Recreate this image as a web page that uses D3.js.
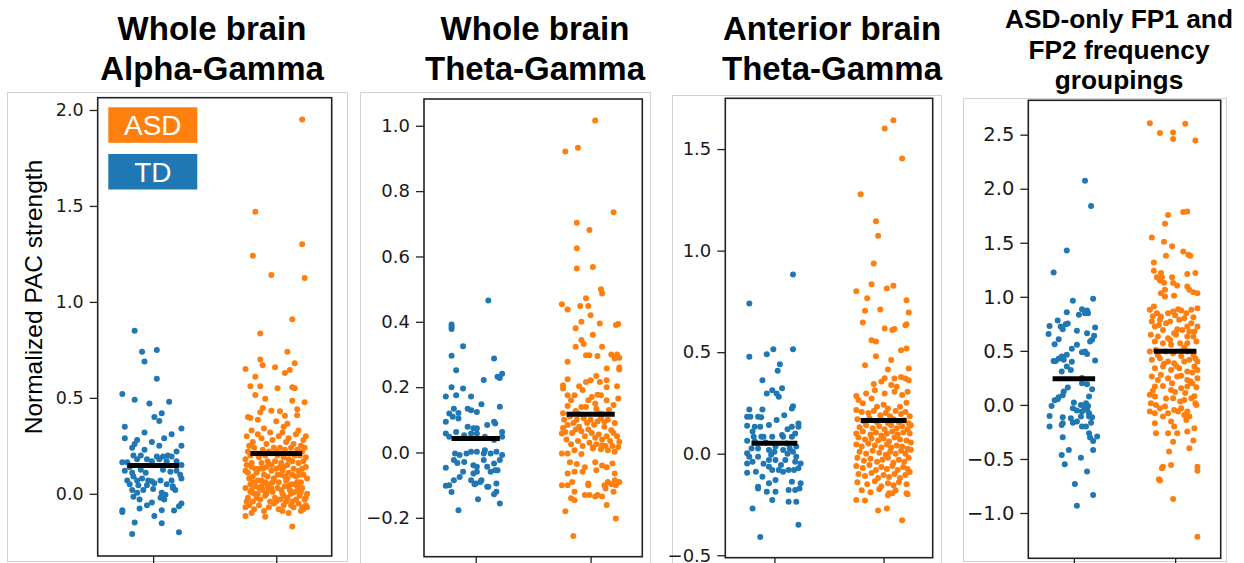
<!DOCTYPE html>
<html><head><meta charset="utf-8">
<script src="https://cdn.jsdelivr.net/npm/d3@7"></script>
<style>body{margin:0;background:#fff}svg{display:block}</style>
</head><body><svg id="chart" width="1244" height="563"></svg>
<script>
// Groups, colours and titles
const groups = ["TD", "ASD"];
const groupColors = ["#1f77b4", "#ff7f0e"];
const legendLabels = ["ASD", "TD"];
const panelTitles = [
  ["Whole brain", "Alpha-Gamma"],
  ["Whole brain", "Theta-Gamma"],
  ["Anterior brain", "Theta-Gamma"],
  ["ASD-only FP1 and", "FP2 frequency", "groupings"]
];
const yLabel = "Normalized PAC strength";

// Y tick values per panel
const yTicks1 = [0, 0.5, 1.0, 1.5, 2.0];
const yTicks2 = [-0.2, 0, 0.2, 0.4, 0.6, 0.8, 1.0];
const yTicks3 = [-0.5, 0, 0.5, 1.0, 1.5];
const yTicks4 = [-1.0, -0.5, 0, 0.5, 1.0, 1.5, 2.0, 2.5];

// Group means per panel [TD, ASD]
const means1 = [0.148, 0.21];
const means2 = [0.043, 0.117];
const means3 = [0.051, 0.164];
const means4 = [0.243, 0.497];

// Subject points: [horizontal jitter (in category units), PAC value]
const td1 = [[-0.15,0.85],[-0.09,0.74],[0.03,0.75],[-0.07,0.69],[0.03,0.6],[-0.25,0.52],[-0.15,0.49],[0.13,0.48],[-0.03,0.47],[0.07,0.42],[0.01,0.4],[0.05,0.38],[-0.23,0.35],[0.23,0.34],[-0.07,0.32],[0.15,0.31],[-0.23,0.29],[0.09,0.29],
[-0.13,0.28],[-0.15,0.26],[-0.01,0.27],[0.05,0.25],[0.23,0.25],[-0.17,0.24],[-0.07,0.23],[0.19,0.22],[0.12,0.2],[0.03,0.195],[-0.1,0.2],[-0.16,0.2],[0.08,0.195],[0.15,0.195],
[-0.25,0.165],[-0.21,0.165],[-0.23,0.12],[-0.19,0.14],[-0.13,0.18],[-0.05,0.18],[-0.01,0.17],[0.05,0.18],[0.11,0.17],[0.19,0.17],[0.23,0.15],[-0.17,0.11],[-0.1,0.125],[-0.06,0.11],[0.08,0.125],[0.14,0.115],[0.19,0.12],[-0.16,0.09],[-0.21,0.07],[0.22,0.1],[0.23,0.08],
[-0.13,0.07],[-0.09,0.08],[-0.04,0.07],[0.01,0.055],[0.06,0.07],[0.15,0.07],[-0.19,0.05],[-0.12,0.045],[-0.05,0.045],[-0.01,0.065],[0.11,0.05],[0.16,0.04],[-0.17,0.02],[-0.13,0.005],[-0.08,0.02],[0.0,0.025],[0.07,0.005],[0.1,-0.005],[0.16,0.03],[0.18,0.02],[-0.16,-0.015],[-0.11,-0.03],[0.06,-0.02],[0.09,-0.03],
[0.23,-0.05],[0.21,-0.065],[-0.01,-0.045],[-0.05,-0.06],[-0.11,-0.077],[0.07,-0.085],[0.17,-0.087],[-0.25,-0.085],[-0.25,-0.095],[0.01,-0.115],[-0.15,-0.15],[0.07,-0.153],[-0.17,-0.21],[0.21,-0.2]];

const asd1 = [[0.21,1.95],[-0.17,1.47],[0.21,1.3],[-0.19,1.24],[-0.04,1.14],[0.23,1.125],
[0.13,0.91],[-0.13,0.835],[0.09,0.74],[-0.13,0.7],[-0.11,0.67],[0.15,0.68],[-0.01,0.66],[-0.25,0.65],[0.11,0.645],[0.07,0.63],[-0.17,0.61],[-0.21,0.56],[-0.13,0.56],[0.13,0.555],[0.15,0.55],[0.01,0.55],[-0.17,0.515],[-0.09,0.495],[0.13,0.485],[0.23,0.477],[-0.11,0.447],[-0.04,0.433],[0.03,0.43],[-0.13,0.425],[0.17,0.44],[-0.23,0.4],[-0.21,0.395],[0.07,0.407],[0.17,0.41],[-0.15,0.386],[0.0,0.378],[0.09,0.365],[0.06,0.35],
[-0.2,0.33],[-0.1,0.34],[0.05,0.32],[0.18,0.33],[0.24,0.3],[-0.24,0.3],[-0.15,0.31],[0.1,0.29],[-0.03,0.28],[0.22,0.28],[-0.19,0.27],[0.02,0.3],[0.14,0.26],[-0.08,0.26],[0.2,0.25],[-0.22,0.25],[0.08,0.27],[-0.12,0.29],[0.16,0.31],[-0.05,0.32],
[-0.25,0.18],[-0.23,0.22],[-0.18,0.24],[-0.14,0.19],[-0.11,0.23],[-0.07,0.17],[-0.02,0.24],[0.01,0.2],[0.04,0.16],[0.07,0.23],[0.1,0.18],[0.12,0.24],[0.15,0.2],[0.18,0.16],[0.21,0.22],[0.24,0.19],[-0.2,0.16],[-0.16,0.21],[-0.09,0.2],[-0.04,0.15],[0.0,0.22],[0.06,0.19],[0.09,0.15],[0.13,0.17],[0.17,0.23],[0.22,0.17],[-0.24,0.15],[-0.12,0.16],[0.03,0.24],[0.19,0.2],[-0.06,0.22],[0.11,0.21],[-0.21,0.2],[0.23,0.24],[-0.01,0.17],
[-0.25,0.12],[-0.22,0.08],[-0.2,0.14],[-0.18,0.06],[-0.16,0.11],[-0.14,0.13],[-0.12,0.07],[-0.1,0.1],[-0.08,0.14],[-0.06,0.05],[-0.04,0.12],[-0.02,0.08],[0.0,0.13],[0.02,0.06],[0.04,0.1],[0.06,0.14],[0.08,0.07],[0.1,0.11],[0.12,0.05],[0.14,0.13],[0.16,0.09],[0.18,0.12],[0.2,0.06],[0.22,0.1],[0.24,0.14],[-0.23,0.11],[-0.19,0.09],[-0.15,0.07],[-0.11,0.13],[-0.07,0.09],[-0.03,0.06],[0.01,0.1],[0.05,0.12],[0.09,0.08],[0.13,0.1],[0.17,0.06],[0.21,0.13],[0.25,0.08],[-0.21,0.05],[-0.09,0.06],[0.03,0.14],[0.15,0.05],[-0.17,0.13],[0.07,0.09],[0.19,0.1],
[-0.25,0.03],[-0.23,-0.02],[-0.21,0.01],[-0.19,-0.04],[-0.17,0.04],[-0.15,0.0],[-0.13,-0.03],[-0.11,0.02],[-0.09,-0.01],[-0.07,0.04],[-0.05,-0.04],[-0.03,0.01],[-0.01,-0.02],[0.01,0.03],[0.03,-0.03],[0.05,0.0],[0.07,0.04],[0.09,-0.02],[0.11,0.02],[0.13,-0.04],[0.15,0.01],[0.17,0.04],[0.19,-0.01],[0.21,0.03],[0.23,-0.03],[0.25,0.0],[-0.24,-0.04],[-0.2,0.02],[-0.16,-0.02],[-0.12,0.04],[-0.08,0.0],[-0.04,0.03],[0.0,-0.04],[0.04,0.02],[0.08,-0.04],[0.12,0.0],[0.16,-0.03],[0.2,0.01],[0.24,-0.02],[-0.18,0.0],[-0.06,0.02],[0.06,-0.01],[0.18,0.02],[-0.14,0.03],[0.1,0.04],
[-0.25,-0.07],[-0.22,-0.06],[-0.18,-0.08],[-0.14,-0.06],[-0.1,-0.09],[-0.06,-0.07],[-0.02,-0.05],[0.02,-0.08],[0.06,-0.06],[0.1,-0.1],[0.14,-0.07],[0.18,-0.05],[0.22,-0.08],[0.25,-0.07],[0.24,-0.06],[-0.2,-0.1],[0.05,-0.09],[0.12,-0.06],[0.2,-0.09],[0.21,-0.07],
[-0.25,-0.115],[-0.09,-0.12],[0.13,-0.17]];

const td2 = [[0.11,0.465],[-0.21,0.392],[-0.21,0.385],[-0.21,0.378],[-0.11,0.325],[-0.21,0.296],[0.16,0.288],[-0.17,0.252],[0.23,0.241],[0.19,0.232],[0.21,0.228],[0.07,0.222],[-0.21,0.2],[-0.11,0.196],[-0.26,0.171],[-0.17,0.175],[-0.04,0.171],[0.05,0.148],[0.21,0.14],
[-0.19,0.134],[-0.07,0.134],[-0.04,0.129],[0.01,0.124],[-0.23,0.119],[-0.15,0.121],[-0.26,0.094],[-0.2,0.109],[-0.15,0.104],
[0.16,0.094],[0.17,0.089],[0.1,0.084],[-0.07,0.079],[-0.02,0.074],[0.01,0.074],
[-0.26,0.058],[-0.23,0.048],[-0.17,0.063],[-0.1,0.053],[-0.04,0.058],[0.01,0.058],[0.08,0.048],[0.16,0.038],[0.23,0.063],[0.23,0.048],
[-0.18,-0.003],[-0.14,-0.008],[-0.08,-0.003],[-0.04,0.002],[0.01,0.002],[0.07,-0.003],[0.13,-0.003],[0.18,0.002],[0.23,-0.008],[0.08,0.007],
[-0.19,-0.023],[-0.16,-0.032],[-0.1,-0.029],[-0.02,-0.039],[0.01,-0.044],[0.1,-0.044],[0.16,-0.034],[0.17,-0.054],[0.13,-0.059],[0.19,-0.054],[0.21,-0.023],[0.07,-0.023],
[-0.26,-0.047],[-0.11,-0.059],[-0.02,-0.064],[0.01,-0.059],[-0.19,-0.085],[-0.14,-0.075],[-0.04,-0.085],[0.0,-0.095],[0.04,-0.09],[0.1,-0.105],[0.18,-0.095],
[-0.26,-0.102],[-0.23,-0.1],[-0.21,-0.121],[-0.01,-0.097],[0.05,-0.085],[0.11,-0.105],[0.18,-0.12],[0.16,-0.128],
[0.02,-0.143],[-0.15,-0.177],[0.21,-0.156]];

const asd2 = [[0.04,1.016],[-0.22,0.921],[-0.11,0.933],[0.2,0.735],[-0.12,0.703],[-0.01,0.681],[-0.12,0.625],[-0.12,0.563],[0.02,0.568],[0.09,0.5],
[0.1,0.487],[-0.04,0.472],[-0.25,0.454],[-0.2,0.438],[-0.09,0.448],[-0.02,0.448],[0.0,0.42],[-0.08,0.4],[0.08,0.395],[0.22,0.39],[0.24,0.393],[-0.13,0.38],[0.02,0.36],[-0.08,0.344],[-0.06,0.332],[-0.13,0.324],[0.1,0.324],
[-0.2,0.278],[-0.04,0.298],[-0.01,0.298],[0.06,0.295],[0.18,0.3],[0.23,0.3],[0.21,0.288],[0.25,0.29],[0.14,0.257],[0.25,0.254],[0.05,0.234],[0.25,0.26],
[-0.2,0.224],[-0.04,0.216],[0.0,0.221],[0.08,0.216],[0.14,0.221],[-0.24,0.206],[-0.24,0.196],[-0.1,0.203],[-0.07,0.191],[0.14,0.2],[0.23,0.203],
[-0.2,0.175],[-0.14,0.175],[0.01,0.17],[0.06,0.177],[0.09,0.175],[0.14,0.16],[-0.02,0.16],[-0.17,0.16],[0.04,0.15],[-0.04,0.139],[0.05,0.134],[-0.08,0.139],[-0.13,0.127],[0.24,0.165],[-0.2,0.142],[0.16,0.13],[0.2,0.145],[-0.24,0.12],[-0.1,0.118],[0.1,0.118],[0.07,0.12],
[-0.25,0.058],[-0.22,0.063],[-0.2,0.084],[-0.1,0.079],[0.12,0.094],[0.12,0.079],[0.18,0.068],[0.25,0.033],[0.24,0.017],
[-0.23,0.1],[-0.18,0.11],[-0.15,0.09],[-0.12,0.1],[-0.06,0.105],[-0.03,0.09],[0.0,0.1],[0.03,0.085],[0.06,0.095],[0.09,0.105],[0.15,0.1],[0.21,0.09],
[-0.24,0.075],[-0.16,0.06],[-0.13,0.07],[-0.08,0.065],[-0.05,0.05],[-0.02,0.07],[0.01,0.06],[0.04,0.045],[0.07,0.055],[0.1,0.04],[0.14,0.05],[0.17,0.035],[0.2,0.06],[0.23,0.05],
[-0.21,0.04],[-0.17,0.025],[-0.11,0.035],[-0.07,0.02],[-0.01,0.03],[0.02,0.015],[0.05,0.025],[0.09,0.01],[0.13,0.02],[0.19,0.02],
[-0.25,-0.003],[-0.2,-0.003],[-0.14,0.007],[-0.08,-0.005],[0.02,0.012],[0.1,0.022],[0.15,0.007],[0.21,0.002],
[-0.18,-0.03],[-0.12,-0.035],[-0.05,-0.045],[0.04,-0.03],[0.1,-0.04],[0.14,-0.045],[0.19,-0.034],
[-0.2,-0.064],[-0.14,-0.059],[-0.07,-0.059],[0.05,-0.054],[0.21,-0.064],
[-0.16,-0.09],[-0.02,-0.095],[0.15,-0.09],[0.21,-0.085],[0.25,-0.09],
[-0.25,-0.1],[-0.2,-0.1],[-0.02,-0.1],[0.12,-0.1],[0.18,-0.097],[0.22,-0.1],
[-0.14,-0.12],[-0.05,-0.13],[0.06,-0.13],[0.13,-0.11],[0.2,-0.12],
[-0.17,-0.14],[-0.14,-0.146],[-0.01,-0.13],[0.04,-0.135],[0.1,-0.135],
[0.14,-0.161],[-0.22,-0.18],[0.22,-0.202],[-0.15,-0.256]];

const td3 = [[0.17,0.883],[-0.23,0.74],[-0.23,0.477],[-0.07,0.49],[-0.01,0.514],[0.17,0.514],[0.05,0.441],[0.03,0.408],[-0.11,0.362],
[-0.07,0.297],[-0.02,0.313],[0.02,0.297],[0.07,0.322],[0.04,0.28],[0.17,0.234],[0.16,0.223],
[-0.23,0.218],[-0.11,0.218],[-0.25,0.182],[-0.22,0.182],[-0.15,0.182],[-0.12,0.179],[0.09,0.19],[0.02,0.166],
[-0.05,0.141],[-0.13,0.133],[-0.25,0.138],[-0.18,0.133],[0.16,0.133],[0.22,0.149],[0.22,0.133],
[-0.12,0.084],[-0.1,0.084],[-0.02,0.084],[0.07,0.092],[0.08,0.084],[0.16,0.084],[0.19,0.1],[-0.19,0.084],[-0.25,0.064],
[-0.21,0.026],[-0.15,0.026],[-0.25,0.002],[-0.05,0.018],[0.01,0.035],[0.08,0.018],[0.14,0.026],[0.2,0.035],[0.17,0.01],
[-0.23,-0.015],[-0.25,-0.048],[-0.2,-0.04],[-0.15,-0.015],[-0.05,-0.031],[0.01,-0.031],[0.1,-0.031],[0.19,-0.04],[0.2,-0.015],[0.24,-0.048],
[-0.25,-0.094],[-0.17,-0.089],[-0.05,-0.064],[-0.02,-0.08],[0.04,-0.08],[0.08,-0.089],[0.13,-0.08],[0.18,-0.08],[0.22,-0.072],
[-0.11,-0.113],[-0.15,-0.163],[-0.05,-0.146],[0.01,-0.13],[0.16,-0.138],[0.24,-0.146],
[-0.15,-0.171],[-0.07,-0.187],[0.01,-0.187],[0.13,-0.179],[0.19,-0.179],[0.23,-0.171],
[-0.02,-0.228],[0.13,-0.236],[0.2,-0.236],[-0.2,-0.27],[0.22,-0.35],[-0.13,-0.41],
[-0.18,0.06],[-0.08,0.055],[0.11,0.05],[-0.03,-0.005],[0.12,0.0],[-0.1,-0.05],[0.06,-0.055],[-0.2,0.11],[0.12,0.12],[0.0,0.01]];

const asd3 = [[0.09,1.642],[0.01,1.601],[0.17,1.454],[-0.21,1.278],[-0.07,1.145],[-0.05,1.073],[-0.09,0.937],[-0.11,0.835],[0.03,0.814],[0.09,0.827],[-0.25,0.8],
[-0.15,0.765],[0.21,0.756],[-0.03,0.71],[-0.17,0.704],[0.23,0.695],[-0.19,0.646],[0.2,0.633],[0.21,0.638],[0.01,0.617],[0.08,0.609],[0.1,0.614],[-0.11,0.559],[-0.07,0.553],[0.16,0.51],[0.21,0.518],[-0.07,0.48],[0.07,0.461],[-0.17,0.436],[0.23,0.42],[0.04,0.415],
[0.01,0.372],[0.1,0.37],[0.16,0.378],[0.2,0.37],[0.23,0.362],[-0.09,0.343],[-0.02,0.355],[0.07,0.338],[0.12,0.33],[0.22,0.305],[-0.25,0.284],[-0.16,0.297],[-0.08,0.313],[0.01,0.297],[0.1,0.305],[0.17,0.289],[0.21,0.251],
[-0.23,0.264],[-0.19,0.248],[-0.11,0.272],[-0.06,0.231],[0.0,0.241],[0.04,0.223],[0.15,0.231],
[-0.25,0.215],[-0.2,0.205],[-0.14,0.2],[-0.09,0.21],[-0.03,0.19],[0.02,0.2],[0.06,0.185],[0.11,0.21],[0.16,0.195],[0.2,0.205],[0.24,0.185],
[-0.24,0.17],[-0.18,0.16],[-0.13,0.175],[-0.06,0.155],[-0.01,0.165],[0.04,0.15],[0.09,0.17],[0.14,0.155],[0.19,0.165],[0.23,0.15],
[-0.22,0.13],[-0.16,0.14],[-0.1,0.125],[-0.04,0.135],[0.01,0.12],[0.07,0.14],[0.12,0.125],[0.17,0.135],[0.22,0.12],[0.25,0.14],
[-0.25,0.1],[-0.19,0.11],[-0.12,0.095],[-0.07,0.105],[-0.02,0.09],[0.03,0.1],[0.08,0.11],[0.13,0.095],[0.18,0.105],[0.24,0.1],
[-0.23,0.08],[-0.17,0.07],[-0.11,0.075],[-0.05,0.065],[0.0,0.075],[0.05,0.06],[0.1,0.08],[0.15,0.07],[0.21,0.065],[0.25,0.055],
[-0.25,0.045],[-0.2,0.035],[-0.14,0.05],[-0.08,0.04],[-0.02,0.03],[0.03,0.045],[0.07,0.03],[0.12,0.04],[0.17,0.035],[0.22,0.025],
[-0.22,0.01],[-0.16,0.0],[-0.1,0.015],[-0.04,0.005],[0.02,-0.005],[0.06,0.01],[0.11,0.0],[0.16,0.015],[0.2,0.0],[0.25,0.02],
[-0.24,-0.02],[-0.18,-0.035],[-0.12,-0.025],[-0.06,-0.04],[-0.01,-0.03],[0.04,-0.02],[0.09,-0.045],[0.14,-0.03],[0.19,-0.04],[0.23,-0.02],
[-0.25,-0.06],[-0.19,-0.07],[-0.13,-0.055],[-0.07,-0.08],[-0.02,-0.065],[0.03,-0.075],[0.08,-0.06],[0.13,-0.08],[0.18,-0.065],[0.22,-0.075],
[-0.23,-0.1],[-0.17,-0.11],[-0.11,-0.095],[-0.05,-0.12],[0.0,-0.105],[0.05,-0.115],[0.1,-0.1],[0.15,-0.12],[0.2,-0.105],[0.24,-0.09],
[-0.24,-0.14],[-0.15,-0.15],[-0.08,-0.135],[-0.02,-0.16],[0.04,-0.145],[0.09,-0.155],[0.14,-0.14],[0.21,-0.15],
[-0.2,-0.18],[-0.12,-0.19],[-0.04,-0.175],[0.05,-0.195],[0.11,-0.18],[0.21,-0.195],[0.22,-0.2],
[-0.17,-0.23],[-0.25,-0.228],[0.04,-0.204],[0.08,-0.195],[-0.05,-0.28],[0.03,-0.27],[0.17,-0.327]];

const td4 = [[0.11,2.074],[0.17,1.84],[-0.07,1.429],[-0.2,1.225],
[0.19,0.981],[-0.01,0.963],[0.08,0.886],[0.13,0.873],[0.11,0.849],[0.14,0.849],[-0.07,0.858],[0.05,0.833],
[-0.24,0.731],[-0.16,0.78],[-0.08,0.747],[-0.06,0.753],[-0.11,0.7],[-0.13,0.725],[0.21,0.716],[0.03,0.685],[-0.25,0.657],[0.13,0.664],[0.2,0.639],[0.18,0.602],[0.16,0.586],[-0.15,0.608],[-0.19,0.562],[0.03,0.556],[-0.02,0.519],
[0.08,0.488],[0.13,0.472],[0.11,0.494],[-0.07,0.463],[-0.12,0.448],[-0.15,0.426],[-0.1,0.417],[-0.18,0.407],[-0.2,0.407],[0.21,0.41],[-0.02,0.4],[-0.07,0.355],[-0.03,0.324],[-0.12,0.309],
[0.08,0.25],[0.08,0.201],[0.13,0.191],[0.18,0.145],[-0.06,0.16],[-0.1,0.123],[-0.11,0.09],[-0.15,0.071],[-0.19,0.043],[-0.16,0.052],[0.15,0.077],
[0.0,0.022],[0.07,0.0],[0.1,-0.015],[0.12,0.015],[0.14,-0.01],[-0.22,-0.01],
[-0.01,-0.031],[0.03,-0.052],[0.08,-0.062],[0.13,-0.046],[0.15,-0.077],
[-0.24,-0.102],[-0.24,-0.2],[-0.11,-0.114],[-0.03,-0.123],[0.07,-0.108],[0.15,-0.108],
[-0.11,-0.17],[-0.12,-0.185],[-0.01,-0.164],[0.03,-0.154],[0.08,-0.2],[0.18,-0.114],[0.17,-0.164],[0.12,-0.2],
[0.15,-0.262],[0.16,-0.302],[0.19,-0.333],[0.19,-0.417],[0.23,-0.293],[-0.11,-0.3],[-0.05,-0.417],[-0.12,-0.463],[-0.09,-0.549],[0.07,-0.488],[0.13,-0.617],[0.01,-0.731],[0.19,-0.833],[0.03,-0.932]];

const asd4 = [[-0.25,2.605],[0.1,2.6],[-0.15,2.515],[-0.02,2.52],[-0.02,2.46],[0.2,2.447],[0.08,1.784],[0.12,1.79],[-0.07,1.756],[-0.1,1.676],[-0.23,1.549],[-0.11,1.509],[-0.03,1.467],[0.08,1.42],[0.13,1.39],[0.15,1.38],[-0.09,1.38],[-0.21,1.318],[-0.21,1.24],[-0.14,1.22],[-0.18,1.18],[-0.13,1.18],[-0.15,1.15],[-0.11,1.13],[-0.03,1.18],[0.12,1.21],[0.2,1.22],[0.02,1.105],
[-0.02,1.127],[0.12,1.096],[0.14,1.065],[-0.1,1.065],[-0.14,1.034],[-0.1,1.003],[-0.01,1.009],[0.18,1.043],[0.22,1.034],
[-0.25,0.88],[-0.21,0.91],
[-0.18,0.849],[-0.14,0.818],[-0.07,0.849],[-0.02,0.864],[0.03,0.886],[0.06,0.873],[0.11,0.849],[0.16,0.88],[0.22,0.895],
[-0.23,0.772],[-0.15,0.787],[-0.09,0.756],[-0.05,0.772],[0.04,0.787],[0.09,0.802],[0.16,0.756],
[-0.2,0.725],[-0.12,0.694],[-0.01,0.664],[0.07,0.694],[0.12,0.725],[0.19,0.679],[0.22,0.725],
[-0.24,0.648],[-0.17,0.633],[-0.07,0.617],[0.01,0.648],[0.12,0.633],[0.18,0.633],
[-0.2,0.586],[-0.12,0.571],[-0.04,0.556],[0.05,0.571],[0.12,0.571],[0.21,0.586],
[-0.25,0.494],[-0.19,0.509],[-0.09,0.494],[-0.02,0.478],[0.12,0.494],[0.18,0.463],
[-0.23,0.417],[-0.15,0.432],[-0.07,0.401],[-0.01,0.386],[0.09,0.401],[0.14,0.417],[0.22,0.401],
[-0.2,0.34],[-0.12,0.355],[-0.04,0.324],[0.04,0.34],[0.12,0.309],[0.19,0.355],[0.22,0.324],
[-0.23,0.262],[-0.17,0.231],[-0.07,0.247],[0.02,0.262],[0.12,0.231],[0.17,0.201],[0.22,0.247],
[-0.2,0.17],[-0.12,0.176],[-0.04,0.139],[0.06,0.154],[0.12,0.17],[0.21,0.164],
[-0.25,0.093],[-0.2,0.077],[-0.02,0.062],[0.05,0.031],[0.09,0.046],[0.16,0.062],[0.2,0.015],
[-0.24,0.015],[-0.19,0.0],[-0.1,-0.015],[-0.01,-0.046],[0.12,-0.062],[0.21,0.0],
[-0.25,-0.062],[-0.2,-0.077],[-0.12,-0.108],[-0.07,-0.077],[0.03,-0.062],[0.09,-0.093],[0.14,-0.108],
[-0.2,-0.17],[-0.04,-0.154],[-0.01,-0.2],[0.11,-0.139],[0.19,-0.216],
[-0.19,-0.262],[-0.07,-0.262],[0.02,-0.262],[0.12,-0.247],
[-0.02,-0.34],[0.18,-0.33],[-0.06,-0.432],[0.14,-0.401],
[-0.12,-0.571],[-0.04,-0.556],[-0.13,-0.586],[0.22,-0.571],[0.22,-0.608],[-0.16,-0.688],[-0.15,-0.7],[-0.02,-0.87],[0.22,-1.219],
[-0.22,0.82],[0.0,0.83],[0.18,0.81],[-0.16,0.74],[0.02,0.7],[0.14,0.68],[-0.05,0.6],[0.09,0.53],[-0.17,0.46],[0.06,0.45],[0.2,0.43],[-0.11,0.38],[0.01,0.36],[0.17,0.3],[-0.14,0.28],[0.06,0.27],[-0.03,0.2],[0.15,0.22],[-0.22,0.13],[0.1,0.11],[-0.09,0.06],[0.0,0.12],[0.19,0.08],[-0.15,-0.03],[0.06,-0.03]];

const panelData = [
  { td: td1, asd: asd1, means: means1, ticks: yTicks1 },
  { td: td2, asd: asd2, means: means2, ticks: yTicks2 },
  { td: td3, asd: asd3, means: means3, ticks: yTicks3 },
  { td: td4, asd: asd4, means: means4, ticks: yTicks4 }
];

// Page layout of each panel: outer frame, plot area, value range, type sizes
const layouts = [
  { frame: [7.5, 92.5, 347.5, 561.5], left: 97.7, top: 97.7, right: 331.7, bottom: 556, yDomain: [-0.324, 2.064], tickFont: 17.5, titleX: 212, titleY: [40, 80], titleSize: 33 },
  { frame: [360.5, 92.5, 650.5, 575], left: 424, top: 99, right: 642.3, bottom: 556.7, yDomain: [-0.319, 1.082], tickFont: 18, titleX: 535, titleY: [40, 80], titleSize: 33 },
  { frame: [672.5, 95.5, 941.5, 575], left: 725.3, top: 98.3, right: 932.7, bottom: 557.7, yDomain: [-0.512, 1.75], tickFont: 18, titleX: 832, titleY: [40, 80], titleSize: 33 },
  { frame: [963.5, 98.5, 1226.5, 561.5], left: 1028.3, top: 100.3, right: 1220.7, bottom: 558.3, yDomain: [-1.419, 2.818], tickFont: 19.5, titleX: 1119, titleY: [28, 59, 89], titleSize: 26.3 }
];

const svg = d3.select("#chart");
const fmt = d3.format(".1f");

layouts.forEach((L, k) => {
  const D = panelData[k];
  const g = svg.append("g").attr("class", "panel");

  g.append("rect")
    .attr("x", L.frame[0]).attr("y", L.frame[1])
    .attr("width", L.frame[2] - L.frame[0]).attr("height", L.frame[3] - L.frame[1])
    .attr("fill", "none").attr("stroke", "#d2d2d2").attr("stroke-width", 1);

  const x = d3.scaleLinear().domain([-0.45, 1.45]).range([L.left, L.right]);
  const y = d3.scaleLinear().domain(L.yDomain).range([L.bottom, L.top]);

  // jittered strips
  [D.td, D.asd].forEach((pts, gi) => {
    g.append("g").attr("class", "strip-" + groups[gi])
      .selectAll("circle").data(pts).join("circle")
      .attr("cx", d => x(gi + d[0]))
      .attr("cy", d => y(d[1]))
      .attr("r", 3)
      .attr("fill", groupColors[gi]);
  });

  // group mean bars
  g.append("g").selectAll("line").data(D.means).join("line")
    .attr("x1", (m, i) => x(i - 0.21)).attr("x2", (m, i) => x(i + 0.21))
    .attr("y1", m => y(m)).attr("y2", m => y(m))
    .attr("stroke", "#000").attr("stroke-width", 5);

  // y axis
  const ya = g.append("g").attr("transform", `translate(${L.left},0)`)
    .call(d3.axisLeft(y).tickValues(D.ticks).tickSize(8).tickPadding(6).tickFormat(fmt));
  ya.select(".domain").remove();
  ya.selectAll("text").attr("font-family", "DejaVu Sans").attr("font-size", L.tickFont).attr("fill", "#1a1a1a");
  ya.selectAll("line").attr("stroke", "#222").attr("stroke-width", 1.3);

  // x axis (unlabelled ticks)
  const xa = g.append("g").attr("transform", `translate(0,${L.bottom})`)
    .call(d3.axisBottom(x).tickValues([0, 1]).tickSize(8).tickFormat(""));
  xa.select(".domain").remove();
  xa.selectAll("line").attr("stroke", "#222").attr("stroke-width", 1.3);

  // plot box
  g.append("rect")
    .attr("x", L.left).attr("y", L.top)
    .attr("width", L.right - L.left).attr("height", L.bottom - L.top)
    .attr("fill", "none").attr("stroke", "#222").attr("stroke-width", 1.6);

  // title
  const t = g.append("text")
    .attr("text-anchor", "middle")
    .attr("font-family", "Liberation Sans, Arial, sans-serif")
    .attr("font-weight", "bold")
    .attr("font-size", L.titleSize)
    .attr("fill", "#000");
  panelTitles[k].forEach((line, li) => {
    t.append("tspan").attr("x", L.titleX).attr("y", L.titleY[li]).text(line);
  });
});

// y label on the first panel
svg.append("text")
  .attr("transform", "translate(42,297) rotate(-90)")
  .attr("text-anchor", "middle")
  .attr("font-family", "Liberation Sans, Arial, sans-serif")
  .attr("font-size", 24.5)
  .attr("fill", "#000")
  .text(yLabel);

// legend boxes
const legendBoxes = [
  { label: legendLabels[0], color: groupColors[1], y: 107.3 },
  { label: legendLabels[1], color: groupColors[0], y: 154 }
];
const lg = svg.append("g").attr("class", "legend");
lg.selectAll("rect").data(legendBoxes).join("rect")
  .attr("x", 108.3).attr("y", d => d.y).attr("width", 89).attr("height", 35.5)
  .attr("fill", d => d.color);
lg.selectAll("text").data(legendBoxes).join("text")
  .attr("x", 152.8).attr("y", d => d.y + 27.5)
  .attr("text-anchor", "middle")
  .attr("font-family", "Liberation Sans, Arial, sans-serif")
  .attr("font-size", 28)
  .attr("fill", "#fff")
  .text(d => d.label);
</script>
</body></html>
